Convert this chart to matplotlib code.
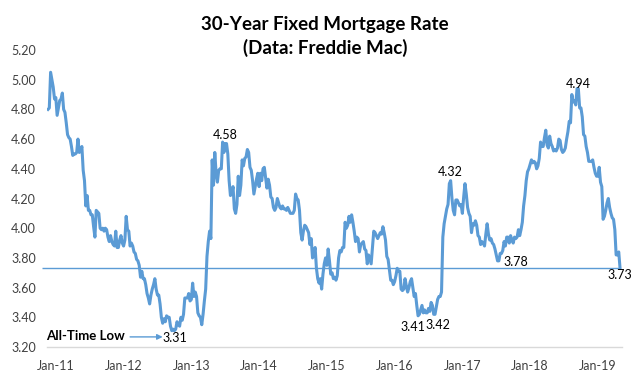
import matplotlib
matplotlib.use("Agg")
import matplotlib.pyplot as plt

# weekly 30-year fixed rate (%), from late Jan 2011 to late Jun 2019
rates_2011 = [4.80, 4.81, 5.05, 5.00, 4.95, 4.87, 4.88, 4.76, 4.81, 4.86,
              4.87, 4.91, 4.80, 4.78, 4.71, 4.63, 4.61, 4.60, 4.55, 4.49,
              4.50, 4.50, 4.51, 4.60, 4.51, 4.52, 4.55, 4.39, 4.32, 4.15,
              4.22, 4.12, 4.12, 4.09, 4.09, 4.01, 3.94, 4.12, 4.11, 4.10,
              4.00, 3.99, 4.00, 3.98, 4.00, 3.99, 3.94, 3.91, 3.95]
rates_2012 = [3.91, 3.89, 3.88, 3.98, 3.87, 3.87, 3.92, 3.95, 3.90, 3.88,
              3.92, 4.08, 3.99, 3.98, 3.88, 3.90, 3.88, 3.84, 3.83, 3.79,
              3.78, 3.75, 3.67, 3.71, 3.66, 3.66, 3.62, 3.56, 3.53, 3.49,
              3.55, 3.59, 3.62, 3.66, 3.59, 3.55, 3.55, 3.49, 3.40, 3.36,
              3.39, 3.37, 3.41, 3.40, 3.40, 3.34, 3.31, 3.32, 3.31, 3.32,
              3.37, 3.35]
rates_2013 = [3.34, 3.40, 3.38, 3.42, 3.53, 3.53, 3.53, 3.56, 3.51, 3.52,
              3.63, 3.54, 3.57, 3.54, 3.43, 3.41, 3.40, 3.35, 3.42, 3.51,
              3.59, 3.81, 3.91, 3.98, 3.93, 4.46, 4.29, 4.51, 4.37, 4.31,
              4.39, 4.40, 4.40, 4.58, 4.51, 4.57, 4.57, 4.50, 4.32, 4.22,
              4.23, 4.28, 4.13, 4.10, 4.16, 4.35, 4.22, 4.29, 4.46, 4.42,
              4.47, 4.48]
rates_2014 = [4.53, 4.51, 4.41, 4.39, 4.32, 4.23, 4.28, 4.33, 4.37, 4.28,
              4.37, 4.32, 4.40, 4.41, 4.34, 4.27, 4.33, 4.29, 4.21, 4.20,
              4.14, 4.12, 4.14, 4.20, 4.17, 4.14, 4.13, 4.15, 4.13, 4.13,
              4.12, 4.14, 4.12, 4.10, 4.10, 4.10, 4.12, 4.23, 4.20, 4.19,
              4.12, 3.97, 3.92, 3.98, 4.02, 4.01, 3.99, 3.97, 3.89, 3.93,
              3.80, 3.83, 3.87]
rates_2015 = [3.73, 3.66, 3.63, 3.66, 3.59, 3.69, 3.76, 3.80, 3.75, 3.86,
              3.78, 3.69, 3.70, 3.66, 3.67, 3.65, 3.68, 3.80, 3.85, 3.84,
              3.87, 3.87, 4.04, 4.00, 4.02, 4.08, 4.04, 4.09, 4.04, 3.98,
              3.91, 3.94, 3.93, 3.84, 3.89, 3.90, 3.91, 3.86, 3.85, 3.76,
              3.82, 3.79, 3.76, 3.87, 3.98, 3.97, 3.95, 3.93, 3.95, 3.97,
              3.96, 4.01]
rates_2016 = [3.97, 3.92, 3.81, 3.79, 3.72, 3.65, 3.65, 3.62, 3.64, 3.68,
              3.73, 3.71, 3.71, 3.59, 3.58, 3.59, 3.66, 3.61, 3.57, 3.60,
              3.64, 3.66, 3.60, 3.54, 3.56, 3.48, 3.41, 3.42, 3.45, 3.48,
              3.43, 3.45, 3.43, 3.43, 3.46, 3.44, 3.50, 3.48, 3.42, 3.42,
              3.47, 3.52, 3.54, 3.54, 3.57, 3.94, 4.03, 4.08, 4.13, 4.16,
              4.30, 4.32]
rates_2017 = [4.20, 4.12, 4.09, 4.19, 4.19, 4.17, 4.15, 4.16, 4.10, 4.21,
              4.30, 4.23, 4.14, 4.10, 4.08, 3.97, 4.03, 4.02, 4.05, 4.02,
              3.95, 3.94, 3.89, 3.91, 3.90, 3.88, 3.96, 4.03, 3.96, 3.92,
              3.93, 3.90, 3.89, 3.86, 3.82, 3.78, 3.78, 3.83, 3.83, 3.85,
              3.91, 3.88, 3.94, 3.94, 3.90, 3.95, 3.92, 3.90, 3.94, 3.93,
              3.94, 3.99]
rates_2018 = [3.95, 3.99, 4.04, 4.15, 4.22, 4.32, 4.38, 4.40, 4.43, 4.46,
              4.44, 4.45, 4.44, 4.40, 4.42, 4.47, 4.58, 4.55, 4.55, 4.61,
              4.66, 4.56, 4.54, 4.62, 4.57, 4.55, 4.52, 4.53, 4.52, 4.54,
              4.60, 4.59, 4.53, 4.51, 4.52, 4.54, 4.60, 4.65, 4.72, 4.71,
              4.90, 4.85, 4.86, 4.83, 4.94, 4.94, 4.81, 4.81, 4.75, 4.63,
              4.62, 4.55]
rates_2019 = [4.51, 4.45, 4.45, 4.45, 4.46, 4.41, 4.37, 4.35, 4.35, 4.41,
              4.31, 4.28, 4.06, 4.08, 4.12, 4.17, 4.20, 4.14, 4.10, 4.07,
              4.06, 3.99, 3.82, 3.82, 3.84, 3.73]

rates = (rates_2011 + rates_2012 + rates_2013 + rates_2014 + rates_2015
         + rates_2016 + rates_2017 + rates_2018 + rates_2019)
weeks = list(range(len(rates)))

tick_labels = ["Jan-11", "Jan-12", "Jan-13", "Jan-14", "Jan-15",
               "Jan-16", "Jan-17", "Jan-18", "Jan-19"]
tick_weeks = [6, 58, 110, 162, 214, 266, 318, 370, 422]

# week index of each labelled point
labelled_weeks = [95, 134, 284, 297, 309, 345, 406, 439]
current_rate = rates[-1]

plt.rcParams["font.family"] = ["Lato", "DejaVu Sans"]
LINE = "#5B9BD5"
TEXT = "#404040"

fig = plt.figure(figsize=(6.37, 3.83), dpi=100)
ax = fig.add_axes([47 / 637, 36 / 383, 575 / 637, 297 / 383])

ax.plot(weeks, rates, color=LINE, lw=2.2, solid_joinstyle="round")
ax.hlines(current_rate, -4.5, weeks[-1], color=LINE, lw=1.0, clip_on=False)

ax.set_xlim(-0.77, weeks[-1] + 1.5)
ax.set_ylim(3.2, 5.2)
ax.set_yticks([3.2 + 0.2 * k for k in range(11)])
ax.yaxis.set_major_formatter(plt.FuncFormatter(lambda v, _: f"{v:.2f}"))
ax.set_xticks(tick_weeks)
ax.set_xticklabels(tick_labels)
ax.tick_params(axis="both", length=0, labelsize=9, colors=TEXT)
ax.tick_params(axis="y", pad=8)
ax.tick_params(axis="x", pad=9)
for side in ["top", "right", "left"]:
    ax.spines[side].set_visible(False)
ax.spines["bottom"].set_color("#D9D9D9")
ax.spines["bottom"].set_linewidth(1.0)

# offsets in points for the value labels: (dx, dy)
offsets = {95: (2, -5), 134: (2, 5), 284: (-4, -8), 297: (2, -8),
           309: (0, 6.5), 345: (13, -1), 406: (1, 3.5), 439: (0, -5)}
for w in labelled_weeks:
    dx, dy = offsets[w]
    ax.annotate(f"{rates[w]:.2f}", (weeks[w], rates[w]), xytext=(dx, dy),
                textcoords="offset points", ha="center", va="center",
                fontsize=9, color="#000000")

ax.annotate("", xy=(weeks[88], 3.268), xytext=(63, 3.268),
            arrowprops=dict(arrowstyle="-|>", color=LINE, lw=1.0,
                            mutation_scale=8, shrinkA=0, shrinkB=0))
ax.text(-1.2, 3.272, "All-Time Low", ha="left", va="center",
        fontsize=9.5, fontweight="bold", color="#000000")

fig.text(0.51, 0.905, "30-Year Fixed Mortgage Rate\n(Data: Freddie Mac)",
         ha="center", va="center", fontsize=13.5, fontweight="bold",
         linespacing=1.35)

fig.savefig("out.png", dpi=100, facecolor="white")
